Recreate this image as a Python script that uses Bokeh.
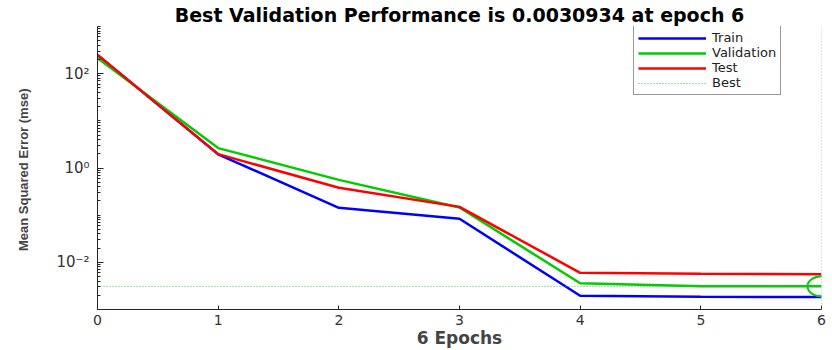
from bokeh.plotting import figure
from bokeh.models import FixedTicker, Span, Legend, LegendItem
from bokeh.embed import file_html
from bokeh.resources import INLINE

# Training record of the network (MSE per epoch)
epochs = [0, 1, 2, 3, 4, 5, 6]
train = [250, 1.95, 0.143, 0.084, 0.00195, 0.00186, 0.00183]
validation = [215, 2.64, 0.56, 0.145, 0.0036, 0.00310, 0.0030934]
test = [250, 1.97, 0.38, 0.15, 0.0060, 0.0057, 0.0056]

best_epoch = 6
best_perf = 0.0030934

x_ticks = [0, 1, 2, 3, 4, 5, 6]
y_major = [1e-2, 1e0, 1e2]
y_major_labels = {1e-2: "10\u207b\u00b2", 1e0: "10\u2070", 1e2: "10\u00b2"}

TICK_FONT = "DejaVu Sans"
AXIS_COLOR = "#262626"

p = figure(
    width=832, height=350,
    x_range=(0, 6), y_range=(1e-3, 1e3),
    y_axis_type="log",
    output_backend="svg", toolbar_location=None,
    title=f"Best Validation Performance is {best_perf} at epoch {best_epoch}",
)
p.min_border_left = 97
p.min_border_right = 11
p.min_border_top = 23
p.min_border_bottom = 39
p.outline_line_color = None
p.background_fill_color = "white"
p.border_fill_color = "white"
p.xgrid.visible = False
p.ygrid.visible = False

p.title.align = "center"
p.title.text_font = "DejaVu Sans"
p.title.text_font_style = "bold"
p.title.text_font_size = "19px"
p.title.text_color = "black"
p.title.standoff = 2

# x axis
xa = p.xaxis[0]
xa.ticker = FixedTicker(ticks=x_ticks)
xa.axis_label = f"{len(epochs) - 1} Epochs"
xa.axis_label_text_font = "DejaVu Sans"
xa.axis_label_text_font_style = "bold"
xa.axis_label_text_font_size = "17px"
xa.axis_label_standoff = 0
xa.major_label_text_font = TICK_FONT
xa.major_label_text_font_size = "14px"
xa.major_label_text_color = "#333333"
xa.major_label_standoff = 5
xa.major_tick_in = 4
xa.major_tick_out = 0
xa.minor_tick_in = 0
xa.minor_tick_out = 0
xa.axis_line_color = AXIS_COLOR
xa.major_tick_line_color = AXIS_COLOR

# y axis with decade minor ticks
minor = []
for d in range(-3, 3):
    for k in range(1, 10):
        v = k * 10.0 ** d
        if v not in y_major:
            minor.append(v)
minor.append(1e3)

ya = p.yaxis[0]
ya.ticker = FixedTicker(ticks=y_major, minor_ticks=minor)
ya.major_label_overrides = y_major_labels
ya.axis_label = "Mean Squared Error  (mse)"
ya.axis_label_text_font = "Liberation Sans"
ya.axis_label_text_font_style = "bold"
ya.axis_label_text_font_size = "13px"
ya.axis_label_standoff = 22
ya.major_label_text_font = TICK_FONT
ya.major_label_text_font_size = "15px"
ya.major_label_text_color = "#333333"
ya.major_label_standoff = 8
ya.major_tick_in = 6
ya.major_tick_out = 0
ya.minor_tick_in = 3
ya.minor_tick_out = 0
ya.axis_line_color = AXIS_COLOR
ya.major_tick_line_color = AXIS_COLOR
ya.minor_tick_line_color = AXIS_COLOR

BLUE = "#0000ff"
GREEN = "#00cc00"
RED = "#ff0000"
BEST = "#44bb44"

r_train = p.line(epochs, train, line_color=BLUE, line_width=2.5)
r_val = p.line(epochs, validation, line_color=GREEN, line_width=2.5)
r_test = p.line(epochs, test, line_color=RED, line_width=2.5)
r_best = p.line([epochs[0], epochs[-1]], [best_perf, best_perf],
                line_color=BEST, line_width=1, line_dash="1 2")
p.add_layout(Span(location=best_epoch, dimension="height",
                  line_color=BEST, line_width=1, line_dash="1 2"))
p.ellipse(x=[best_epoch], y=[best_perf], width=28, height=20,
          width_units="screen", height_units="screen",
          fill_color=None, line_color=GREEN, line_width=2)

legend = Legend(
    items=[
        LegendItem(label="Train", renderers=[r_train]),
        LegendItem(label="Validation", renderers=[r_val]),
        LegendItem(label="Test", renderers=[r_test]),
        LegendItem(label="Best", renderers=[r_best]),
    ],
    location=(536, 214),
    border_line_color="#333333",
    border_line_width=1,
    background_fill_color="white",
    background_fill_alpha=1,
    label_text_font="DejaVu Sans",
    label_text_font_size="13px",
    label_text_color="#222222",
    label_height=12,
    glyph_height=12,
    glyph_width=68,
    label_standoff=6,
    spacing=0,
    padding=4,
    margin=0,
)
p.add_layout(legend, "center")

open("out.html", "w").write(file_html(p, INLINE))
